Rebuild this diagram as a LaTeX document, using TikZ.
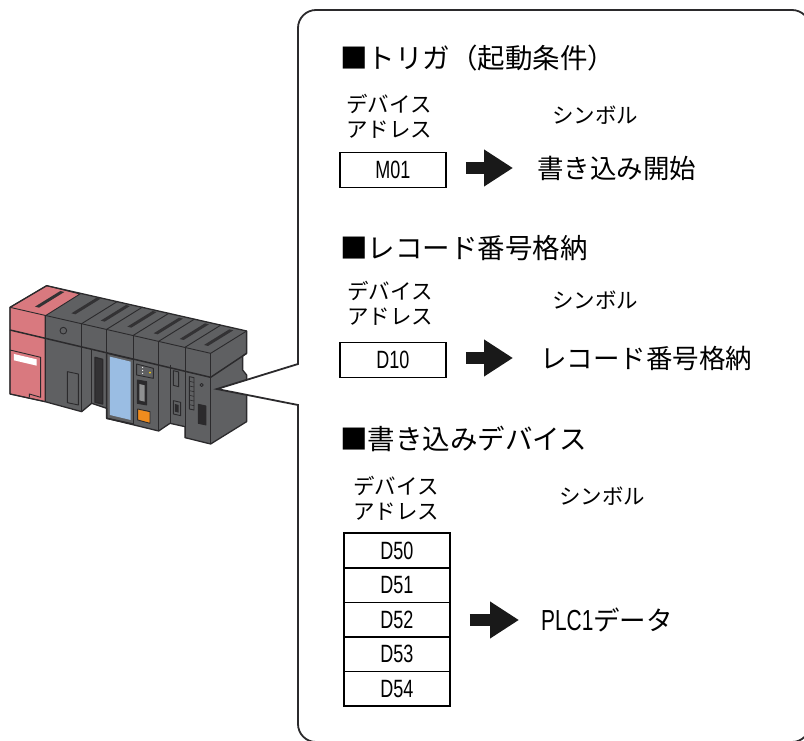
\documentclass[tikz,border=0pt]{standalone}
\usepackage{fontspec}
\usepackage{tikz}
\usetikzlibrary{arrows.meta,positioning}
\setmainfont{Noto Sans CJK JP}
\newfontfamily\narrowfont[FakeStretch=0.72]{Liberation Sans}
\definecolor{plcgray}{HTML}{5F6062}
\definecolor{plcred}{HTML}{D9797F}
\definecolor{plcblue}{HTML}{9ABDE3}
\definecolor{plcorange}{HTML}{F08C1E}
\definecolor{plcline}{HTML}{2B2A2C}
\tikzset{
  heading/.style={anchor=west,inner sep=0pt,font=\fontsize{27.5}{28}\selectfont},
  small/.style={inner sep=0pt,align=center,font=\fontsize{21.5}{25}\selectfont},
  symbol/.style={anchor=west,inner sep=0pt,font=\fontsize{26.5}{28}\selectfont},
  device/.style={draw=black,line width=1.5pt,minimum width=106pt,minimum height=34.6pt,inner sep=0pt,
    font=\narrowfont\fontsize{25}{26}\selectfont},
  bigarrow/.style={line width=12pt,-{Triangle[length=29pt,width=35pt]},shorten <=19pt,draw=black!90},
  plc/.style={draw=plcline,line width=0.9pt,line join=round},
}
\begin{document}
\begin{tikzpicture}[x=1pt,y=-1pt,node distance=34.6pt,on grid]
  \useasboundingbox (0,0) rectangle (804,741);

  % PLC
  \begin{scope}[shift={(0,270)},x=0.3333pt,y=-0.3333pt]
    \fill[plcgray] (30,112) -- (140,47) -- (740,183) -- (740,250) -- (728,258) -- (728,300) -- (740,315)
      -- (740,455) -- (632,522)
      -- (555,503) -- (555,470) -- (510,460) -- (476,483) -- (320,445) -- (320,415) -- (275,400)
      -- (245,425) -- (135,395) -- (30,372) -- cycle;
    \fill[plcred,plc] (30,112) -- (140,47) -- (240,72) -- (135,138) -- (135,395) -- (30,372) -- cycle;
    \draw[plc,line width=1.3pt] (30,112) -- (140,47) -- (740,183) -- (740,250) -- (728,258) -- (728,300) -- (740,315)
      -- (740,455) -- (632,522)
      -- (555,503) -- (555,470) -- (510,460) -- (476,483) -- (320,445) -- (320,415) -- (275,400)
      -- (245,425) -- (135,395) -- (30,372) -- cycle;
    % top and lid
    \draw[plc] (30,112) -- (632,250) -- (740,183);
    \draw[plc,line width=1.5pt] (30,180) -- (632,322) -- (740,250);
    \foreach \fx/\fy in {245/161,320/178,400/196,476/214,555/232}
      \draw[plc] (\fx,\fy) -- ++(108,-67);
    \foreach \fx/\fy/\ly in {135/136/395,245/161/425,320/178/247,400/196/462,476/214/483,555/232/503,632/250/522,275/236/400,510/285/460}
      \draw[plc] (\fx,\fy) -- (\fx,\ly);
    % slots
    \foreach \sx/\sy in {148/88,257/108,345/130,425/148,504/168,582/185,655/203}
      \fill[plcline!85!plcgray] (\sx-43,\sy+22) -- (\sx+33,\sy-25) -- (\sx+45,\sy-22) -- (\sx-31,\sy+25) -- cycle;
    % red module
    \fill[white] (42,252) -- (110,268) -- (110,287) -- (42,271) -- cycle;
    \draw[plc] (30,240) -- (122,262) -- (122,382) -- (88,372) -- (88,382);
    % first gray module
    \draw[plc] (190,182) circle (10);
    \draw[plc] (202,305) -- (235,312) -- (235,405) -- (202,398) -- cycle;
    \draw[plc,fill=plcline!85!plcgray,line width=1.3pt] (285,262) -- (308,268) -- (308,402) -- (285,397) -- cycle;
    % blue panel
    \draw[plc,line width=1.5pt] (320,250) -- (320,445) -- (398,462);
    \draw[plc] (320,250) -- (398,268);
    \fill[plcblue] (330,260) -- (392,275) -- (392,450) -- (330,435) -- cycle;
    % connectors
    \draw[plc] (410,282) -- (460,295) -- (460,325) -- (410,315) -- cycle;
    \fill[yellow!70!orange] (450,308) circle (3);
    \foreach \dy in {292,301,310}
      \fill[white] (428,\dy) circle (1.8);
    \draw[plc,fill=plcline] (412,330) -- (440,335) -- (440,405) -- (412,400) -- cycle;
    \fill[plcgray!70!white] (418,342) -- (434,346) -- (434,395) -- (418,391) -- cycle;
    \fill[plcorange,plc] (413,417) -- (450,425) -- (450,460) -- (413,450) -- cycle;
    \draw[plc] (520,302) -- (536,306) -- (536,350) -- (520,346) -- cycle;
    \draw[plc] (520,392) -- (542,397) -- (542,437) -- (520,432) -- cycle;
    \fill[plcline] (525,402) -- (536,405) -- (536,428) -- (525,425) -- cycle;
    % last module
    \draw[plc] (568,320) -- (582,323) -- (582,420) -- (568,417) -- cycle;
    \foreach \ry in {334,348,362,376,390,404}
      \draw[plc,line width=0.6pt] (568,\ry) -- (582,\ry+3);
    \draw[plc] (605,345) circle (5);
    \draw[plc,fill=plcline] (595,403) -- (618,408) -- (618,465) -- (595,460) -- cycle;
  \end{scope}

  % callout
  \coordinate (tip) at (217,389);
  \draw[draw=plcline,fill=white,line width=1.8pt,rounded corners=18pt]
    (298,300) -- (298,10) -- (810,10) -- (810,742) -- (298,742) -- (298,600) [sharp corners]
    -- (298,405) -- (tip) -- (298,364) -- cycle;

  % first group
  \node[heading]          (head1) at (340,58)    {■トリガ（起動条件）};
  \node[small]            (addr1) at (389,116)   {デバイス\\アドレス};
  \node[small]            (sym1)  at (595,115)   {シンボル};
  \node[device]           (m01)   at (393,170)   {M01};
  \node[symbol]           (write) at (537,168)   {書き込み開始};

  % second group
  \node[heading]          (head2) at (340,248)   {■レコード番号格納};
  \node[small]            (addr2) at (390,303)   {デバイス\\アドレス};
  \node[small]            (sym2)  at (595,300)   {シンボル};
  \node[device]           (d10)   at (393,360)   {D10};
  \node[symbol]           (record) at (540,358)  {レコード番号格納};

  % third group
  \node[heading]          (head3) at (340,439)   {■書き込みデバイス};
  \node[small]            (addr3) at (396,498)   {デバイス\\アドレス};
  \node[small]            (sym3)  at (602,496)   {シンボル};
  \node[device]           (d50)   at (397,550.5) {D50};
  \node[device]           (d51)   [below of=d50] {D51};
  \node[device]           (d52)   [below of=d51] {D52};
  \node[device]           (d53)   [below of=d52] {D53};
  \node[device]           (d54)   [below of=d53] {D54};
  \node[symbol,font=\narrowfont\fontsize{29}{30}\selectfont] (plc1) at (541,620)
    {PLC1{\fontspec{Noto Sans CJK JP}\fontsize{26.5}{28}\selectfont データ}};

  \draw[bigarrow,shorten >=24pt] (write.west -| m01.east) -- (write.west);
  \draw[bigarrow,shorten >=27pt] (record.west -| d10.east) -- (record.west);
  \draw[bigarrow,shorten >=22pt] (plc1.west -| d52.east) -- (plc1.west);
\end{tikzpicture}
\end{document}
